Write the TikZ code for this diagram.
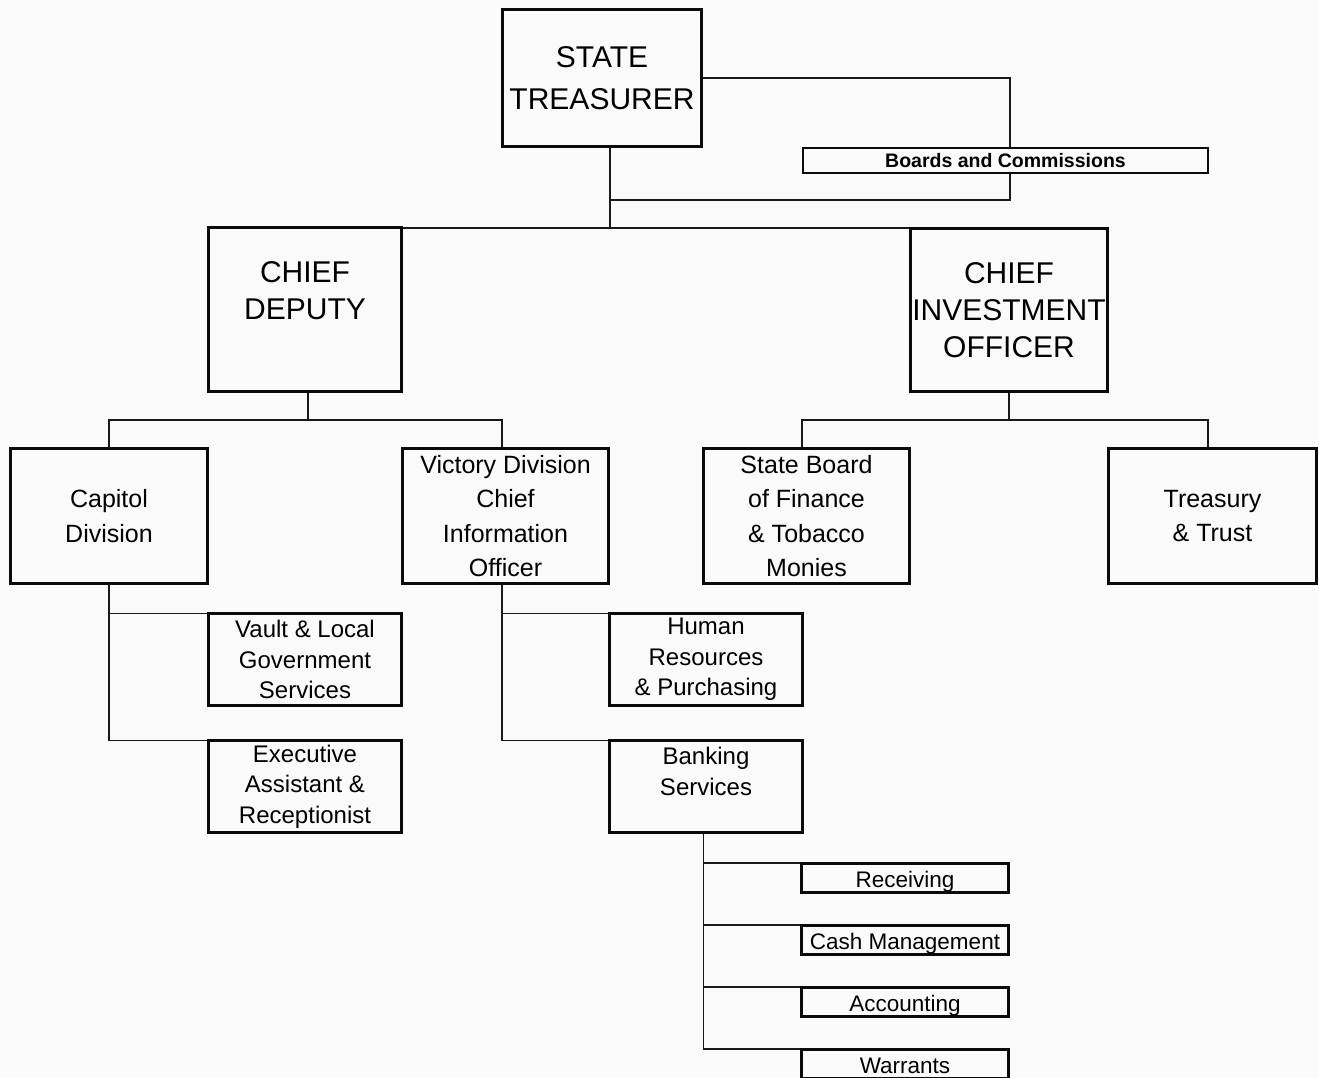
\documentclass[tikz,border=0pt]{standalone}
\usepackage{fontspec}
\setmainfont{Liberation Sans}
\usetikzlibrary{positioning, calc}
\definecolor{papercolor}{RGB}{250, 250, 250}
\definecolor{boxcolor}{RGB}{10, 10, 10}
\definecolor{linkcolor}{RGB}{25, 25, 25}
\tikzset{
    % Base box
    basebox/.style={
        draw=boxcolor, line width=3pt, fill=papercolor,
        align=center, inner sep=0pt
    },
    % Box types
    headbox/.style={basebox, font=\fontsize{30}{37}\selectfont},
    divbox/.style={basebox, font=\fontsize{25}{34.5}\selectfont,
        minimum width=206pt, minimum height=135pt},
    unitbox/.style={basebox, font=\fontsize{24}{30.5}\selectfont,
        minimum width=193pt, minimum height=92pt},
    smallbox/.style={basebox, font=\fontsize{22.5}{26}\selectfont,
        text height=21pt, text depth=2pt,
        minimum width=207pt, minimum height=29pt},
    boardbox/.style={basebox, line width=1.8pt,
        font=\bfseries\fontsize{19.5}{22}\selectfont,
        minimum width=405pt, minimum height=25pt},
    % Connectors
    link/.style={draw=linkcolor, line width=1.6pt},
}

\begin{document}
\begin{tikzpicture}[x=1pt, y=1pt, node distance=32pt]

% Page
\useasboundingbox (0,0) rectangle (1319,-1078);
\fill[papercolor] (0,0) rectangle (1319,-1078);

% Top level
\node (treasurer) [headbox, font=\fontsize{30}{42}\selectfont,
    minimum width=199pt, minimum height=137pt] at (602,-78)
    {STATE\\TREASURER};

\node (boards) [boardbox] at (1005.5,-160.5) {Boards and Commissions};

% Second level
\node (deputy) [headbox, minimum width=193pt, minimum height=164pt]
    at (305,-309.5) {CHIEF\\DEPUTY\\~};

\node (invest) [headbox, minimum width=197pt, minimum height=163pt]
    at (1009,-310) {CHIEF\\INVESTMENT\\OFFICER};

% Divisions
\node (capitol) [divbox, minimum width=197pt] at (109,-516)
    {Capitol\\Division};

\node (victory) [divbox] at (505.5,-516)
    {Victory Division\\Chief\\Information\\Officer};

\node (finance) [divbox] at (806.5,-516)
    {State Board\\of Finance\\\& Tobacco\\Monies};

\node (trust) [divbox, minimum width=208pt] at (1212.5,-516)
    {Treasury\\\& Trust};

% Units
\node (vault) [unitbox] at (305,-659.5)
    {Vault \& Local\\Government\\Services};

\node (assist) [unitbox, below=of vault]
    {Executive\\Assistant \&\\Receptionist};

\node (hr) [unitbox, right=205pt of vault]
    {Human\\Resources\\\& Purchasing};

\node (banking) [unitbox, below=of hr] {Banking\\Services\\~};

% Banking sections
\node (receiving) [smallbox] at (905,-877.5) {Receiving};
\node (cash) [smallbox, below=30pt of receiving] {Cash Management};
\node (accounting) [smallbox, below=30pt of cash] {Accounting};
\node (warrants) [smallbox, below=30pt of accounting] {Warrants};

% Connectors
\coordinate (trunk) at ($(treasurer.south)+(8,0)$);
\coordinate (bus) at ($(treasurer.south)+(8,-80)$);
\draw[link] (treasurer.east) -| ($(boards.north)+(4.5,0)$);
\draw[link] ($(boards.south)+(4.5,0)$) |- ($(trunk)+(0,-52)$);
\draw[link] (trunk) -- (bus);
\draw[link] (deputy.east |- bus) -- (invest.west |- bus);

\draw[link] ($(deputy.south)+(3,0)$) -- ++(0,-27) -| (capitol.north);
\draw[link] ($(deputy.south)+(3,0)$) -- ++(0,-27) -| ($(victory.north)+(-3.5,0)$);
\draw[link] (invest.south) -- ++(0,-27) -| ($(finance.north)+(-4.5,0)$);
\draw[link] (invest.south) -- ++(0,-27) -| ($(trust.north)+(-4.5,0)$);

\draw[link] (capitol.south) |- ([yshift=-1.5pt]vault.north west);
\draw[link] (capitol.south) |- ([yshift=-1.5pt]assist.north west);
\draw[link] ($(victory.south)+(-3.5,0)$) |- ([yshift=-1.5pt]hr.north west);
\draw[link] ($(victory.south)+(-3.5,0)$) |- ([yshift=-1.5pt]banking.north west);

\draw[link] ($(banking.south)+(-2.5,0)$) |- ([yshift=-1.5pt]receiving.north west);
\draw[link] ($(banking.south)+(-2.5,0)$) |- ([yshift=-1.5pt]cash.north west);
\draw[link] ($(banking.south)+(-2.5,0)$) |- ([yshift=-1.5pt]accounting.north west);
\draw[link] ($(banking.south)+(-2.5,0)$) |- ([yshift=-1.5pt]warrants.north west);

\end{tikzpicture}
\end{document}
